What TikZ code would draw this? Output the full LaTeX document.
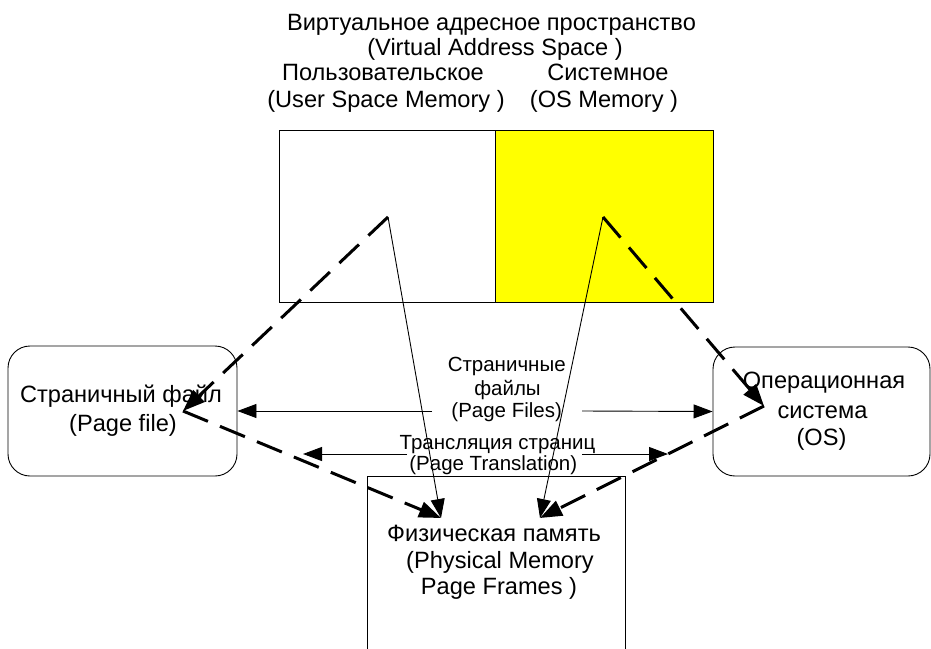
\documentclass[tikz,border=0pt]{standalone}
\usepackage{fontspec}
\setmainfont{Liberation Sans}
\usetikzlibrary{arrows.meta}
\begin{document}
\begin{tikzpicture}[x=1pt,y=-1pt,
  outline/.style={draw=black, line width=0.9pt, inner sep=0pt},
  lbl/.style={font=\fontsize{23.6}{27}\selectfont, anchor=base, inner sep=0pt},
  slbl/.style={font=\fontsize{20.5}{23}\selectfont, anchor=base, inner sep=0pt},
  solidarrow/.style={line width=0.9pt, -{Triangle[length=19pt,width=14pt]}},
  dasharrow/.style={line width=3pt, dash pattern=on 27pt off 13pt,
    -{Triangle[length=22pt,width=16pt]}}]
\useasboundingbox (0,0) rectangle (931,648);
\clip (0,0) rectangle (931,648);

% virtual address space: user part and system part
\node[outline, minimum width=216pt, minimum height=172pt] (vuser) at (387,216) {};
\node[outline, fill={rgb,1:red,1;green,1;blue,0}, minimum width=218pt, minimum height=172pt] (vos) at (604,216) {};

% page file, operating system, physical memory
\node[outline, rounded corners=22pt, minimum width=229pt, minimum height=130pt] (pagefile) at (122.5,411) {};
\node[outline, rounded corners=22pt, minimum width=217pt, minimum height=129pt] (os) at (821.5,411.5) {};
\node[outline, minimum width=258pt, minimum height=220pt] (phys) at (496,586) {};

% connector end points
\coordinate (uapex) at (388,217);
\coordinate (oapex) at (603,217);
\coordinate (pfhub) at (183,411);
\coordinate (oshub) at (764,406);
\coordinate (physL) at (441,518);
\coordinate (physR) at (540,518);
\coordinate (pgL) at (432,411);
\coordinate (pgR) at (582,411);
\coordinate (trL) at (407,454);
\coordinate (trLtip) at (303,454);
\coordinate (trR) at (582,454);
\coordinate (trRtip) at (668,454);

% paging paths
\draw[dasharrow] (uapex) -- (pfhub);
\draw[dasharrow] (pfhub) -- (physL);
\draw[dasharrow] (oapex) -- (oshub);
\draw[dasharrow] (oshub) -- (physR);

% direct translation
\draw[solidarrow] (uapex) -- (physL);
\draw[solidarrow] (oapex) -- (physR);

% page files and page translation
\draw[solidarrow] (pgL) -- (pagefile.east);
\draw[solidarrow] (pgR) -- (os.west);
\draw[solidarrow] (trL) -- (trLtip);
\draw[solidarrow] (trR) -- (trRtip);

% labels
\node[lbl] (title1) at (491.5,30) {Виртуальное адресное пространство};
\node[lbl] (title2) at (495,55) {(Virtual Address Space )};
\node[lbl] (user1) at (383,80) {Пользовательское};
\node[lbl] (user2) at (386,107) {(User Space Memory )};
\node[lbl] (sys1) at (608,80) {Системное};
\node[lbl] (sys2) at (604,107) {(OS Memory )};
\node[lbl] (pf1) at (121,402.5) {Страничный файл};
\node[lbl] (pf2) at (123,431.5) {(Page file)};
\node[lbl] (os1) at (824,388) {Операционная};
\node[lbl] (os2) at (822.5,418) {система};
\node[lbl] (os3) at (821.5,445) {(OS)};
\node[lbl] (ph1) at (494,541.5) {Физическая память};
\node[lbl] (ph2) at (500,568) {(Physical Memory};
\node[lbl] (ph3) at (499,594) {Page Frames )};
\node[slbl] (pg1) at (506.7,371.7) {Страничные};
\node[slbl] (pg2) at (507.5,395) {файлы};
\node[slbl] (pg3) at (506.7,417.7) {(Page Files)};
\node[slbl] (tr1) at (497.5,449.3) {Трансляция страниц};
\node[slbl] (tr2) at (493.3,470) {(Page Translation)};
\end{tikzpicture}
\end{document}
